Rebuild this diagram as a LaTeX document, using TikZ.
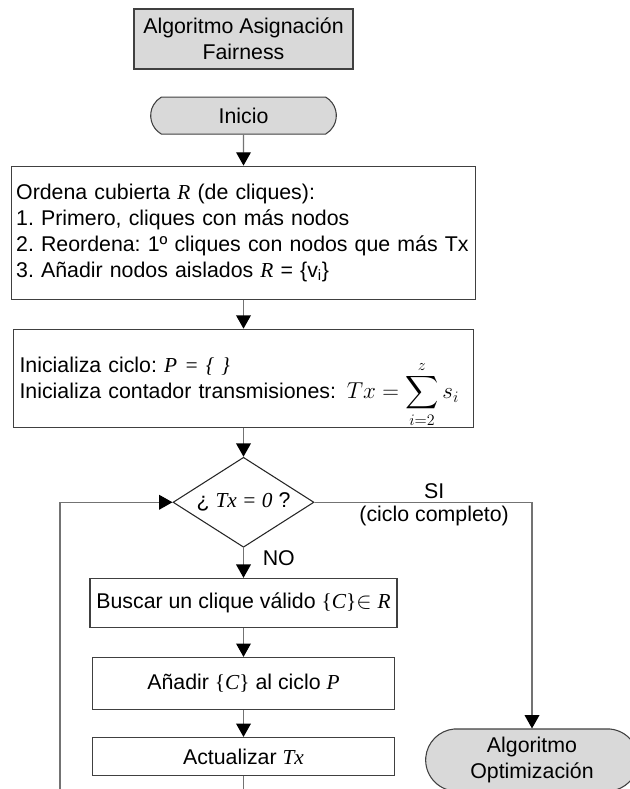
\documentclass[tikz,border=0pt]{standalone}
\usepackage{fontspec}
\setmainfont{Liberation Sans}
\newfontfamily\tmsfont{Liberation Serif}
\usepackage{amsmath}
\usetikzlibrary{arrows.meta,positioning,shapes.geometric,shapes.misc}
\newcommand{\mv}[1]{{\tmsfont\itshape #1}}
\newcommand{\ms}[1]{{\tmsfont #1}}
\frenchspacing

\begin{document}
\begin{tikzpicture}[
    x=0.75pt, y=-0.75pt,
    >={Triangle[length=10pt,width=11pt,color=black]},
    font=\fontsize{16}{19.5}\selectfont,
    box/.style={draw=black!75, line width=0.8pt, rectangle, align=center, inner sep=3.5pt},
    term/.style={draw=black!75, line width=0.8pt, rounded rectangle, fill=gray!30, align=center, inner sep=2pt},
    decision/.style={draw=black!85, line width=0.8pt, diamond, aspect=1.57, inner sep=0pt},
    flow/.style={->, draw=black!55, line width=1pt},
    node distance=21.75pt
]
\useasboundingbox (0,0) rectangle (630,789);
\clip (0,0) rectangle (630,789);

\node[box, fill=gray!30, minimum width=164.25pt, minimum height=45pt] (title) at (243.5,39) {Algoritmo Asignación\\Fairness};
\node[term, rounded rectangle arc length=120, minimum width=143.25pt, minimum height=27.75pt, below=20.25pt of title] (start) {Inicio};
\node[box, align=left, text width=341pt, minimum height=99.75pt, below=23.25pt of start] (sort) {Ordena cubierta \mv{R} (de cliques):\\
    1. Primero, cliques con más nodos\\
    2. Reordena: 1º cliques con nodos que más Tx\\
    3. Añadir nodos aislados \mv{R} = \{v\textsubscript{i}\}};
\node[box, align=left, inner xsep=4.5pt, text width=336pt, minimum height=73.5pt, below=of sort] (init) {Inicializa ciclo: \mv{P = \{ \}}\\
    Inicializa contador transmisiones:\enspace {\fontsize{18}{18}\selectfont$Tx = \smash{\displaystyle\sum_{i=2}^{z} s_i}$}};
\node[decision, minimum width=105.75pt, minimum height=67.5pt, below=of init] (dec) {¿ \mv{Tx = 0} ?};
\node[box, minimum width=230.25pt, minimum height=36.75pt, below=22.5pt of dec] (find) {Buscar un clique válido \ms{\{}\mv{C}\ms{\}}$\in$ \mv{R}};
\node[box, minimum width=226.5pt, minimum height=39pt, below=of find] (add) {Añadir \ms{\{}\mv{C}\ms{\}} al ciclo \mv{P}};
\node[box, minimum width=226.5pt, minimum height=28.5pt, below=20.25pt of add] (upd) {Actualizar \mv{Tx}};
\node[term, rounded rectangle arc length=170, minimum width=163.5pt, minimum height=46.5pt] (opt) at (532,760) {Algoritmo\\Optimización};
\coordinate (loopbot) at (60,810);

\draw[flow] (start) -- (sort);
\draw[flow] (sort) -- (init);
\draw[flow] (init) -- (dec);
\draw[flow] (dec) -- node[pos=0.33, right=14pt, inner sep=0pt] {NO} (find);
\draw[flow] (find) -- (add);
\draw[flow] (add) -- (upd);
\draw[flow] (dec.east) -| node[pos=0.275, above, inner sep=2pt] {SI} node[pos=0.275, below, inner sep=2pt] {(ciclo completo)} (opt.north);
\draw[flow] (upd.south) |- (loopbot) |- (dec.west);
\end{tikzpicture}
\end{document}
